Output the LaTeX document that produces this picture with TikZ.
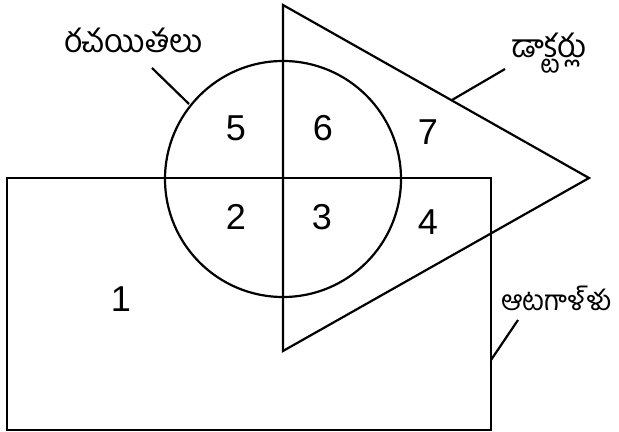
\documentclass[tikz,border=0pt]{standalone}
\usepackage{fontspec}
\setsansfont{Liberation Sans}
\newfontfamily\telugufont[Script=Telugu]{Hind Guntur}
\begin{document}
\begin{tikzpicture}[x=0.5pt,y=-0.5pt,line width=1.1pt,
    region/.style={font=\sffamily\fontsize{18}{20}\selectfont},
    setname/.style={font=\telugufont\fontsize{16}{19}\selectfont,inner sep=0pt}]
   \useasboundingbox (0,0) rectangle (619,432);

   % Draw sets
   \draw (283,179) circle (118);
   \draw (283,5) -- (589,178) -- (283,351) -- cycle;
   \draw (7,178) rectangle (491,430);

   % Region numbers
   \node[region] (r1) at (121,299) {1};
   \node[region] (r2) at (236,217) {2};
   \node[region] (r3) at (322,217) {3};
   \node[region] (r4) at (428,222) {4};
   \node[region] (r5) at (236,128) {5};
   \node[region] (r6) at (323,128) {6};
   \node[region] (r7) at (428,132) {7};

   % Set names
   \node[setname,anchor=base west] (writers) at (63,53) {రచయితలు};
   \node[setname,anchor=base west] (doctors) at (510,58) {డాక్టర్లు};
   \node[setname,anchor=base west,font=\telugufont\fontsize{14}{17}\selectfont] (players) at (500,310) {ఆటగాళ్ళు};

   % Leader lines
   \coordinate (wfoot) at (152,68);
   \coordinate (wtip) at (189,104);
   \coordinate (dfoot) at (505,69);
   \coordinate (dtip) at (452,100);
   \coordinate (pfoot) at (518,320);
   \coordinate (ptip) at (491,360);
   \draw (wfoot) -- (wtip);
   \draw (dfoot) -- (dtip);
   \draw (pfoot) -- (ptip);
\end{tikzpicture}
\end{document}
